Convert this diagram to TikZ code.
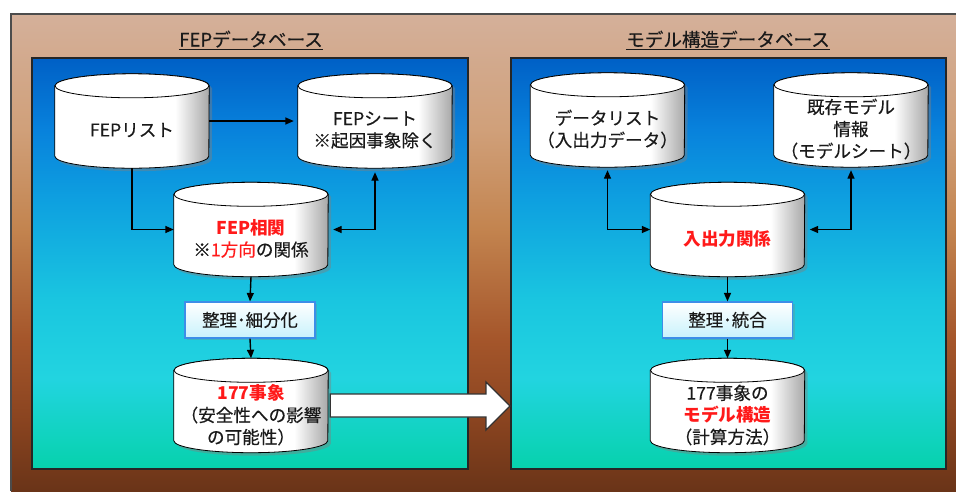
\documentclass[tikz,border=0pt]{standalone}
\usepackage{fontspec}
\setmainfont{Noto Sans CJK JP}[UprightFeatures={FakeBold=0.4}]
\usetikzlibrary{arrows.meta,shadows,calc}
\pgfdeclarelayer{back}
\pgfdeclarelayer{mid}
\pgfsetlayers{back,mid,main}
\definecolor{txt}{HTML}{1A1A1A}
\definecolor{hl}{HTML}{FF1A1A}
\definecolor{br1}{HTML}{D4B09A}
\definecolor{br2}{HTML}{D0A07A}
\definecolor{br3}{HTML}{C3844F}
\definecolor{br4}{HTML}{A5562B}
\definecolor{br5}{HTML}{8A4420}
\definecolor{br6}{HTML}{6A3418}
\definecolor{bl1}{HTML}{0060C6}
\definecolor{bl2}{HTML}{0882DC}
\definecolor{bl3}{HTML}{0EA0E0}
\definecolor{bl4}{HTML}{1AC6E0}
\definecolor{bl5}{HTML}{22D4E0}
\definecolor{bl6}{HTML}{06D2AC}
\definecolor{boxblue}{HTML}{3D8EE8}
\definecolor{boxfill}{HTML}{C8F2FC}
\definecolor{cylgray}{HTML}{A8A8A8}
\pgfdeclareverticalshading{brownshade}{100bp}{color(0bp)=(br6); color(25bp)=(br6); color(32.5bp)=(br5); color(41bp)=(br4); color(52.5bp)=(br3); color(63bp)=(br2); color(75bp)=(br1); color(100bp)=(br1)}
\pgfdeclareverticalshading{panelshade}{100bp}{color(0bp)=(bl6); color(25bp)=(bl6); color(36bp)=(bl5); color(45.5bp)=(bl4); color(57.75bp)=(bl3); color(66.25bp)=(bl2); color(75bp)=(bl1); color(100bp)=(bl1)}
\pgfdeclarehorizontalshading{cylshade}{100bp}{color(0bp)=(white); color(25bp)=(white); color(64bp)=(white); color(75bp)=(cylgray); color(100bp)=(cylgray)}
\newcommand\cylshape[1]{%
  \path[shade, shading=cylshade, draw=black, line width=0.8pt,
        drop shadow={shadow xshift=3pt, shadow yshift=-3pt, opacity=0.45}]
    ([yshift=-12pt]#1.north west) -- ([yshift=12pt]#1.south west)
    arc[start angle=180, end angle=360, x radius=77pt, y radius=12pt]
    -- ([yshift=-12pt]#1.north east)
    arc[start angle=0, end angle=180, x radius=77pt, y radius=12pt] -- cycle;
  \path[fill=white, draw=black, line width=0.8pt]
    ([yshift=-12pt]#1.north) ellipse[x radius=77pt, y radius=12pt];
}
\tikzset{
  cylnode/.style={rectangle, minimum width=154pt, minimum height=94pt, inner sep=0pt},
  lbl/.style={align=center, font=\fontsize{17.6}{22}\selectfont, text=txt, inner sep=0pt},
  titlelbl/.style={font=\fontsize{18.6}{22}\selectfont, text=txt, inner sep=0pt, anchor=base},
  procbox/.style={rectangle, draw=boxblue, line width=1.2pt, top color=white, bottom color=boxfill,
    minimum width=130pt, minimum height=36pt, inner sep=0pt,
    font=\fontsize{17.4}{20}\selectfont, text=txt,
    drop shadow={shadow xshift=2pt, shadow yshift=-2pt, opacity=0.3}},
  conn/.style={line width=1.4pt, black, -{Triangle[length=8.5pt,width=7pt]}},
  conntwo/.style={line width=1.4pt, black, {Triangle[length=8.5pt,width=7pt]}-{Triangle[length=8.5pt,width=7pt]}},
  bigarrow/.style={fill=white, draw=black!80, line width=1.3pt},
  panel/.style={shade, shading=panelshade, draw=black!85, line width=1.2pt},
}
\begin{document}
\begin{tikzpicture}[x=1pt, y=-1pt]
\useasboundingbox (0,0) rectangle (956,491);
% background
\begin{pgfonlayer}{back}
\path[shade, shading=brownshade] (11,14) rectangle (956,491);
\draw[line width=1.2pt, black!70] (11,491) -- (11,14) -- (956,14);
\path[panel] (32,58) rectangle (468,469);
\path[panel] (511,58) rectangle (946,469);
\end{pgfonlayer}
% titles
\node[titlelbl] (t1) at (251,46.5) {FEPデータベース};
\node[titlelbl] (t2) at (728,46.5) {モデル構造データベース};
\draw[line width=0.9pt, txt] ($(t1.base west)+(0,2.5)$) -- ($(t1.base east)+(0,2.5)$);
\draw[line width=0.9pt, txt] ($(t2.base west)+(0,2.5)$) -- ($(t2.base east)+(0,2.5)$);
% cylinders
\node[cylnode] (L1) at (132,121) {};
\node[cylnode] (L2) at (375,121) {};
\node[cylnode] (L3) at (251,229.5) {};
\node[cylnode] (L4) at (251,405.5) {};
\node[cylnode] (R1) at (607.5,120) {};
\node[cylnode] (R2) at (851,120) {};
\node[cylnode] (R3) at (727.5,229.5) {};
\node[cylnode] (R4) at (727.5,405.5) {};
\begin{pgfonlayer}{mid}
\foreach \n in {L1,L2,L3,L4,R1,R2,R3,R4}{\cylshape{\n}}
\end{pgfonlayer}
% labels
\node[lbl] (L1t) at ($(L1)+(0,9)$) {FEPリスト};
\node[lbl] (L2t) at ($(L2)+(0,9)$) {FEPシート\\※起因事象除く};
\node[lbl] (L3t) at ($(L3)+(0,9)$) {{\bfseries\color{hl}FEP相関}\\※{\color{hl}1方向}の関係};
\node[lbl] (L4t) at ($(L4)+(0,9.5)$) {{\bfseries\color{hl}177事象}\\（安全性への影響\\の可能性）};
\node[lbl] (R1t) at ($(R1)+(0,9)$) {データリスト\\（入出力データ）};
\node[lbl] (R2t) at ($(R2)+(0,9)$) {既存モデル\\情報\\（モデルシート）};
\node[lbl] (R3t) at ($(R3)+(0,9)$) {{\bfseries\color{hl}入出力関係}};
\node[lbl] (R4t) at ($(R4)+(0,9.5)$) {177事象の\\{\bfseries\color{hl}モデル構造}\\（計算方法）};
% process boxes
\node[procbox] (LB) at (250,320) {整理･細分化};
\node[procbox] (RB) at (727.5,320) {整理･統合};
% connectors
\draw[conn, shorten >=4pt] (L1.east) -- (L2.west);
\draw[conn] (L1.south) |- (L3.west);
\draw[conntwo, shorten <=5pt, shorten >=4pt] (L3.east) -| (L2.south);
\draw[conn] (L3.south) -- (LB.north);
\draw[conn] (LB.south) -- (L4.north);
\draw[conntwo, shorten >=3pt] (R3.west) -| (R1.south);
\draw[conntwo, shorten <=5pt, shorten >=3pt] (R3.east) -| (R2.south);
\draw[conn] (R3.south) -- (RB.north);
\draw[conn] (RB.south) -- (R4.north);
% big arrow
\coordinate (bigtip) at (510,406);
\draw[bigarrow] ($(L4.east)+(2,-11.5)$) -- (486,394) -- (486,382) -- (bigtip)
  -- (486,430) -- (486,417) -- ($(L4.east)+(2,11.5)$) -- cycle;
\end{tikzpicture}
\end{document}
